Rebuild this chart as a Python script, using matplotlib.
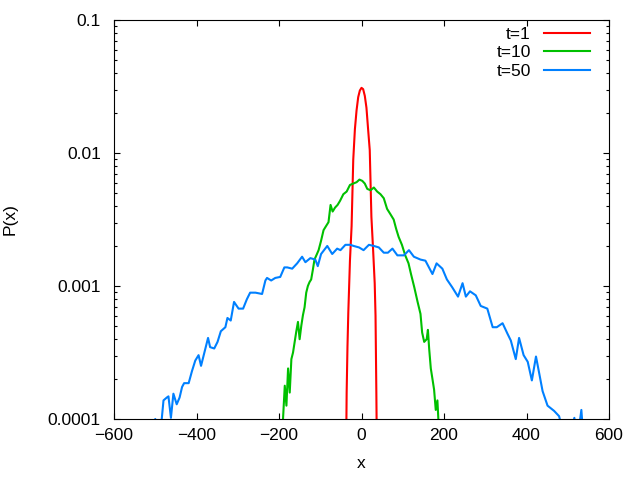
import matplotlib
matplotlib.use('Agg')
import matplotlib.pyplot as plt
from matplotlib.ticker import LogLocator, NullFormatter

plt.rcParams['font.family'] = ['Liberation Sans', 'DejaVu Sans']
plt.rcParams['font.size'] = 12.5

# t=1
x_t1 = [-40, -38, -36, -34, -32, -28, -24, -20, -16, -12, -8, -4, 0,
        4, 8, 12, 16, 20, 24, 28, 32, 34, 36, 38, 40]
p_t1 = [1e-5, 3.2e-5, 1.58e-4, 3.5e-4, 6.3e-4, 1.55e-3, 2.82e-3, 8.9e-3,
        1.51e-2, 2.09e-2, 2.63e-2, 2.95e-2, 3.09e-2, 3.02e-2, 2.69e-2,
        2.19e-2, 1.51e-2, 1.05e-2, 3.31e-3, 1.91e-3, 1.05e-3, 6.0e-4,
        1.58e-4, 3.2e-5, 1e-5]

# t=10
x_t10 = [-192, -186, -182, -178, -174, -170, -166, -162, -158, -154, -150,
         -146, -142, -138, -134, -130, -126, -122, -118, -114, -108, -104,
         -98, -92, -86, -80, -75, -70, -64, -58, -52, -44, -36, -28, -20,
         -12, -5, 2, 8, 14, 22, 30, 38, 46, 54, 62, 70, 78, 84, 90, 98,
         106, 114, 120, 128, 136, 143, 147, 152, 158, 161, 164, 168, 172,
         176, 180, 184, 188]
p_t10 = [7.9e-5, 1.78e-4, 1.26e-4, 2.40e-4, 1.58e-4, 2.82e-4, 3.16e-4,
         3.80e-4, 4.57e-4, 5.37e-4, 3.98e-4, 5.01e-4, 6.03e-4, 6.92e-4,
         8.91e-4, 1.00e-3, 1.07e-3, 1.12e-3, 1.32e-3, 1.58e-3, 1.74e-3,
         1.86e-3, 2.19e-3, 2.63e-3, 2.82e-3, 3.02e-3, 4.07e-3, 3.63e-3,
         3.89e-3, 4.07e-3, 4.37e-3, 4.90e-3, 5.13e-3, 5.75e-3, 5.89e-3,
         6.03e-3, 6.31e-3, 6.17e-3, 5.89e-3, 5.37e-3, 5.25e-3, 5.50e-3,
         5.13e-3, 4.90e-3, 4.57e-3, 3.80e-3, 3.47e-3, 3.16e-3, 2.69e-3,
         2.34e-3, 2.04e-3, 1.70e-3, 1.48e-3, 1.23e-3, 9.77e-4, 7.59e-4,
         6.17e-4, 4.47e-4, 3.80e-4, 3.98e-4, 4.68e-4, 3.39e-4, 2.40e-4,
         2.00e-4, 1.66e-4, 1.17e-4, 1.38e-4, 7.9e-5]

# t=50
x_t50 = [-505, -500, -495, -488, -484, -480, -472, -468, -462, -456, -448,
         -441, -435, -430, -419, -411, -403, -395, -389, -380, -372, -367,
         -357, -349, -341, -330, -325, -317, -309, -298, -287, -278, -270,
         -257, -241, -233, -229, -219, -209, -197, -187, -180, -168, -156,
         -144, -136, -124, -112, -106, -98, -83, -71, -59, -51, -39, -27,
         -19, -6, 5, 18, 30, 42, 54, 64, 75, 87, 103, 115, 127, 143, 155,
         172, 182, 196, 207, 220, 234, 245, 253, 263, 277, 289, 305, 318,
         328, 342, 354, 362, 374, 382, 393, 403, 413, 423, 431, 439, 451,
         467, 479, 485, 495, 505, 512, 516, 520, 528, 533, 537, 545]
p_t50 = [7.1e-5, 1.0e-4, 6.3e-5, 7.9e-5, 1.02e-4, 1.38e-4, 1.45e-4, 1.48e-4,
         1.02e-4, 1.55e-4, 1.29e-4, 1.45e-4, 1.74e-4, 1.86e-4, 1.86e-4,
         2.29e-4, 2.75e-4, 3.02e-4, 2.51e-4, 3.24e-4, 4.07e-4, 3.47e-4,
         3.39e-4, 3.80e-4, 4.57e-4, 4.90e-4, 5.75e-4, 5.50e-4, 7.59e-4,
         6.76e-4, 6.76e-4, 7.94e-4, 8.91e-4, 8.91e-4, 8.71e-4, 1.10e-3,
         1.15e-3, 1.10e-3, 1.15e-3, 1.17e-3, 1.38e-3, 1.38e-3, 1.35e-3,
         1.48e-3, 1.66e-3, 1.51e-3, 1.62e-3, 1.58e-3, 1.41e-3, 1.74e-3,
         2.00e-3, 1.74e-3, 1.91e-3, 1.86e-3, 2.04e-3, 2.04e-3, 2.00e-3,
         1.95e-3, 1.86e-3, 2.04e-3, 2.00e-3, 1.95e-3, 1.78e-3, 1.78e-3,
         1.91e-3, 1.70e-3, 1.70e-3, 1.86e-3, 1.66e-3, 1.58e-3, 1.55e-3,
         1.23e-3, 1.48e-3, 1.35e-3, 1.12e-3, 9.77e-4, 8.32e-4, 1.05e-3,
         8.32e-4, 9.12e-4, 8.51e-4, 7.08e-4, 6.76e-4, 4.90e-4, 4.90e-4,
         5.25e-4, 4.37e-4, 3.89e-4, 2.82e-4, 4.07e-4, 3.02e-4, 2.69e-4,
         1.95e-4, 2.95e-4, 2.19e-4, 1.62e-4, 1.26e-4, 1.15e-4, 1.05e-4,
         8.9e-5, 6.3e-5, 7.9e-5, 8.9e-5, 1.02e-4, 7.9e-5, 8.9e-5, 1.17e-4,
         7.9e-5, 5.0e-5]

x_ticks = [-600, -400, -200, 0, 200, 400, 600]
y_ticks = [1e-4, 1e-3, 1e-2, 1e-1]
y_labels = ['0.0001', '0.001', '0.01', '0.1']

fig = plt.figure(figsize=(6.4, 4.8), dpi=100)
ax = fig.add_axes([114 / 640, 61 / 480, 495 / 640, 399 / 480])

ax.plot(x_t1, p_t1, color='#ff0000', lw=1.5, label='t=1')
ax.plot(x_t10, p_t10, color='#00c000', lw=1.5, label='t=10')
ax.plot(x_t50, p_t50, color='#0080ff', lw=1.5, label='t=50')

ax.set_yscale('log')
ax.set_xlim(-600, 600)
ax.set_ylim(1e-4, 0.1)
ax.set_xticks(x_ticks)
ax.set_yticks(y_ticks)
ax.set_yticklabels(y_labels)
ax.yaxis.set_minor_locator(LogLocator(base=10, subs=range(2, 10)))
ax.yaxis.set_minor_formatter(NullFormatter())

ax.tick_params(which='both', direction='in', top=True, right=True, width=0.8)
ax.tick_params(which='major', length=4.5)
ax.tick_params(which='minor', length=2.2)
ax.tick_params(axis='y', pad=9.5)
ax.tick_params(axis='x', pad=6.5)
for s in ax.spines.values():
    s.set_linewidth(0.8)

fig.text(10.5 / 640, 1 - 219.5 / 480, 'P(x)', rotation=90, ha='center', va='center')
fig.text(361 / 640, 1 - 463 / 480, 'x', ha='center', va='center')

# legend text on the left, sample line on the right, like gnuplot
ax.legend(loc='upper right', bbox_to_anchor=(1 - 19 / 495, 1 - 7 / 399),
          frameon=False, markerfirst=False, handlelength=2.65,
          handletextpad=0.75, labelspacing=0.18, borderpad=0, borderaxespad=0)

fig.savefig('out.png', dpi=100)
